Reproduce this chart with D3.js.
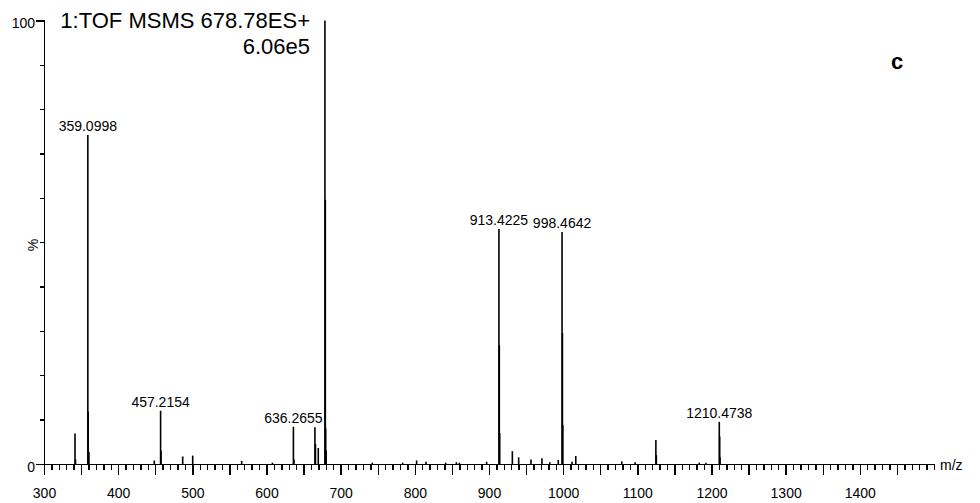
<!DOCTYPE html>
<html>
<head>
<meta charset="utf-8">
<script src="https://cdn.jsdelivr.net/npm/d3@7"></script>
<style>
  body { margin: 0; background: #fff; }
  svg { display: block; font-family: "Liberation Sans", Arial, sans-serif; }
  .axis path, .axis line { stroke: #000; stroke-width: 1.4; shape-rendering: crispEdges; }
  .axis text { font-size: 14px; fill: #000; }
  .peak { stroke: #000; stroke-width: 1.6; }
</style>
</head>
<body>
<svg id="chart" width="980" height="503"></svg>
<script>
// spectrum sticks: m/z and relative intensity (%)
const mz = [
  341.8, 342.5, 359.1, 359.6, 360.6, 448.7, 457.2, 457.8, 487.0, 500.5,
  566.5, 608.0, 636.3, 637.0, 665.3, 666.0, 669.8, 678.8, 679.3, 679.8,
  680.5, 742.6, 783.6, 802.4, 815.0, 841.6, 856.0, 860.0, 896.8, 913.4,
  913.9, 914.4, 931.5, 940.0, 956.6, 971.4, 982.0, 993.4, 998.5, 999.0,
  999.5, 1012.0, 1017.0, 1079.0, 1097.0, 1125.0, 1125.6, 1183.5, 1192.5, 1210.5,
  1211.0, 1211.5
];
const intensity = [
  6.9, 1.0, 74.2, 11.8, 2.7, 0.8, 12.0, 3.0, 1.7, 1.9,
  0.7, 0.3, 8.4, 1.0, 8.3, 4.5, 3.6, 100, 59.6, 8.0,
  3.0, 0.3, 0.3, 0.8, 0.5, 0.3, 0.4, 0.3, 0.5, 53.0,
  26.8, 7.0, 2.9, 1.5, 1.0, 1.3, 0.4, 0.9, 52.3, 29.5,
  8.8, 0.5, 1.8, 0.6, 0.4, 5.4, 2.0, 0.3, 0.3, 9.5,
  6.2, 1.5
];

// annotated peaks
const labelText = ['359.0998', '457.2154', '636.2655', '913.4225', '998.4642', '1210.4738'];
const labelMz = [359.1, 457.2, 636.3, 913.4, 998.5, 1210.5];
const labelInt = [74.2, 12.0, 8.4, 53.0, 52.3, 9.5];

const xTickLabels = [300, 400, 500, 600, 700, 800, 900, 1000, 1100, 1200, 1300, 1400];
const yTickLabels = [0, 100];

const svg = d3.select('#chart');

const x = d3.scaleLinear().domain([300, 1500]).range([44, 934]);
const y = d3.scaleLinear().domain([0, 100]).range([464, 20.5]);

// x axis
const xAxis = svg.append('g')
  .attr('class', 'axis')
  .attr('transform', `translate(0,${y(0)})`)
  .call(d3.axisBottom(x)
    .tickValues(d3.range(300, 1500, 10))
    .tickSizeOuter(0)
    .tickSize(6)
    .tickFormat((d) => xTickLabels.includes(d) ? d : ''));
xAxis.selectAll('.tick line')
  .attr('y2', (d) => d % 50 === 0 ? 11 : 6);
xAxis.selectAll('.tick text')
  .attr('y', 34)
  .attr('dy', 0);

// y axis
const yAxis = svg.append('g')
  .attr('class', 'axis')
  .attr('transform', `translate(${x(300)},0)`)
  .call(d3.axisLeft(y)
    .tickValues(d3.range(0, 101, 10))
    .tickSizeOuter(0)
    .tickSize(4)
    .tickFormat((d) => yTickLabels.includes(d) ? d : ''));
yAxis.selectAll('.tick line')
  .attr('x2', (d) => yTickLabels.includes(d) ? -8 : -4);
yAxis.selectAll('.tick text')
  .attr('x', -9)
  .attr('dy', '0.5em');

// sticks
svg.append('g')
  .selectAll('line')
  .data(mz.map((m, i) => ({ m, v: intensity[i] })))
  .enter()
    .append('line')
    .classed('peak', true)
    .attr('x1', (d) => x(d.m))
    .attr('x2', (d) => x(d.m))
    .attr('y1', y(0))
    .attr('y2', (d) => y(d.v));

// peak labels
svg.append('g')
  .selectAll('text')
  .data(labelText.map((t, i) => ({ t, m: labelMz[i], v: labelInt[i] })))
  .enter()
    .append('text')
    .attr('x', (d) => x(d.m))
    .attr('y', (d) => y(d.v) - 4)
    .attr('text-anchor', 'middle')
    .style('font-size', '14px')
    .text((d) => d.t);

// titles
svg.append('text')
  .attr('x', 310)
  .attr('y', 28)
  .attr('text-anchor', 'end')
  .style('font-size', '22px')
  .text('1:TOF MSMS 678.78ES+');
svg.append('text')
  .attr('x', 310)
  .attr('y', 54)
  .attr('text-anchor', 'end')
  .style('font-size', '22px')
  .text('6.06e5');

svg.append('text')
  .attr('x', 897)
  .attr('y', 69)
  .attr('text-anchor', 'middle')
  .style('font-size', '22px')
  .style('font-weight', 'bold')
  .text('c');

svg.append('text')
  .attr('x', 940)
  .attr('y', 470)
  .style('font-size', '14px')
  .text('m/z');

svg.append('text')
  .attr('transform', 'translate(38,245) rotate(-90)')
  .attr('text-anchor', 'middle')
  .style('font-size', '14px')
  .text('%');
</script>
</body>
</html>
